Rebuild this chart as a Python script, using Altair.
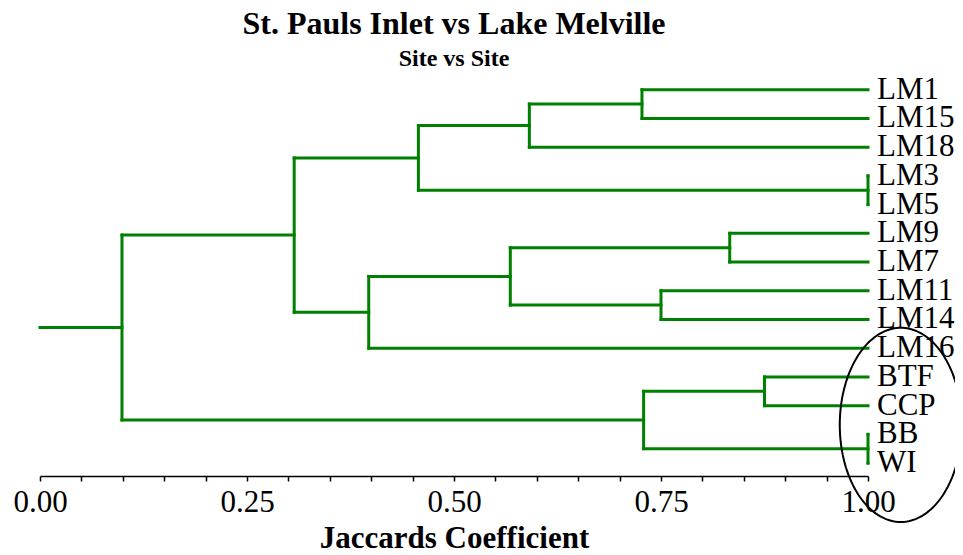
import altair as alt
import pandas as pd
import numpy as np

# ---- data ----
leaves = ["LM1", "LM15", "LM18", "LM3", "LM5", "LM9", "LM7",
          "LM11", "LM14", "LM16", "BTF", "CCP", "BB", "WI"]
merge_left = ["LM1", "m1", "LM3", "m2", "LM9", "LM11", "m5", "m7",
              "m4", "BTF", "BB", "m10", "m9"]
merge_right = ["LM15", "LM18", "LM5", "m3", "LM7", "LM14", "m6", "LM16",
               "m8", "CCP", "WI", "m11", "m12"]
merge_height = [0.727, 0.591, 1.0, 0.457, 0.833, 0.750, 0.568, 0.397,
                0.307, 0.875, 1.0, 0.729, 0.099]
tick_values = [round(i * 0.05, 2) for i in range(21)]

# highlight ellipse (data units: x = coefficient, y = leaf index)
ell_cx, ell_cy, ell_rx, ell_ry = 1.0396, 11.67, 0.0737, 3.38

GREEN = "#008000"
SERIF = "Liberation Serif"

# ---- dendrogram layout ----
pos = {name: float(i) for i, name in enumerate(leaves)}
hgt = {name: 1.0 for name in leaves}
segs = []
for k, (a, b, h) in enumerate(zip(merge_left, merge_right, merge_height), start=1):
    node = f"m{k}"
    pos[node] = (pos[a] + pos[b]) / 2
    hgt[node] = h
    segs.append(dict(x=h, x2=h, y=pos[a], y2=pos[b]))
    for c in (a, b):
        segs.append(dict(x=h, x2=hgt[c], y=pos[c], y2=pos[c]))
root = f"m{len(merge_height)}"
segs.append(dict(x=0.0, x2=hgt[root], y=pos[root], y2=pos[root]))
seg_df = pd.DataFrame(segs)

leaf_df = pd.DataFrame({"name": leaves, "x": 1.0, "y": [pos[n] for n in leaves]})

t = np.linspace(0, 2 * np.pi, 181)
ell_df = pd.DataFrame({"x": ell_cx + ell_rx * np.cos(t),
                       "y": ell_cy + ell_ry * np.sin(t),
                       "o": np.arange(len(t))})

xscale = alt.Scale(domain=[0, 1], nice=False, zero=False)
yscale = alt.Scale(domain=[-1, 13.45], reverse=True, nice=False, zero=False)

xaxis = alt.Axis(
    values=tick_values,
    labelExpr="(round(datum.value*100) % 25 == 0) ? format(datum.value, '.2f') : ''",
    grid=False, domainColor="black", domainWidth=1.5, tickColor="black",
    tickWidth=1.5, tickSize=5, labelFont=SERIF, labelFontSize=31,
    labelColor="black", labelPadding=6, labelOverlap=False, labelFlush=False,
    title="Jaccards Coefficient", titleFont=SERIF, titleFontSize=31,
    titleFontWeight="bold", titleColor="black", titlePadding=6,
)

lines = alt.Chart(seg_df).mark_rule(color=GREEN, strokeWidth=3, strokeCap="square").encode(
    x=alt.X("x:Q", scale=xscale, axis=xaxis),
    x2="x2:Q",
    y=alt.Y("y:Q", scale=yscale, axis=None),
    y2="y2:Q",
)

labels = alt.Chart(leaf_df).mark_text(
    align="left", baseline="middle", dx=9, font=SERIF, fontSize=31, color="black"
).encode(
    x=alt.X("x:Q", scale=xscale),
    y=alt.Y("y:Q", scale=yscale),
    text="name:N",
)

ellipse = alt.Chart(ell_df).mark_line(color="black", strokeWidth=2, clip=False).encode(
    x=alt.X("x:Q", scale=xscale),
    y=alt.Y("y:Q", scale=yscale),
    order="o:Q",
)

chart = alt.layer(lines, labels, ellipse).properties(
    width=828,
    height=415,
    autosize=alt.AutoSizeParams(type="none"),
    padding={"left": 32, "top": 53, "right": 87, "bottom": 78},
    title=alt.TitleParams(
        text="St. Pauls Inlet vs Lake Melville",
        subtitle="Site vs Site",
        font=SERIF, fontSize=32, fontWeight="bold", color="black",
        subtitleFont=SERIF, subtitleFontSize=24, subtitleFontWeight="bold",
        subtitleColor="black", subtitlePadding=6, anchor="middle", offset=-11,
    ),
).configure(background="white").configure_view(stroke=None, strokeWidth=0)

chart.save("out.html", embed_options={"renderer": "svg", "actions": False})
